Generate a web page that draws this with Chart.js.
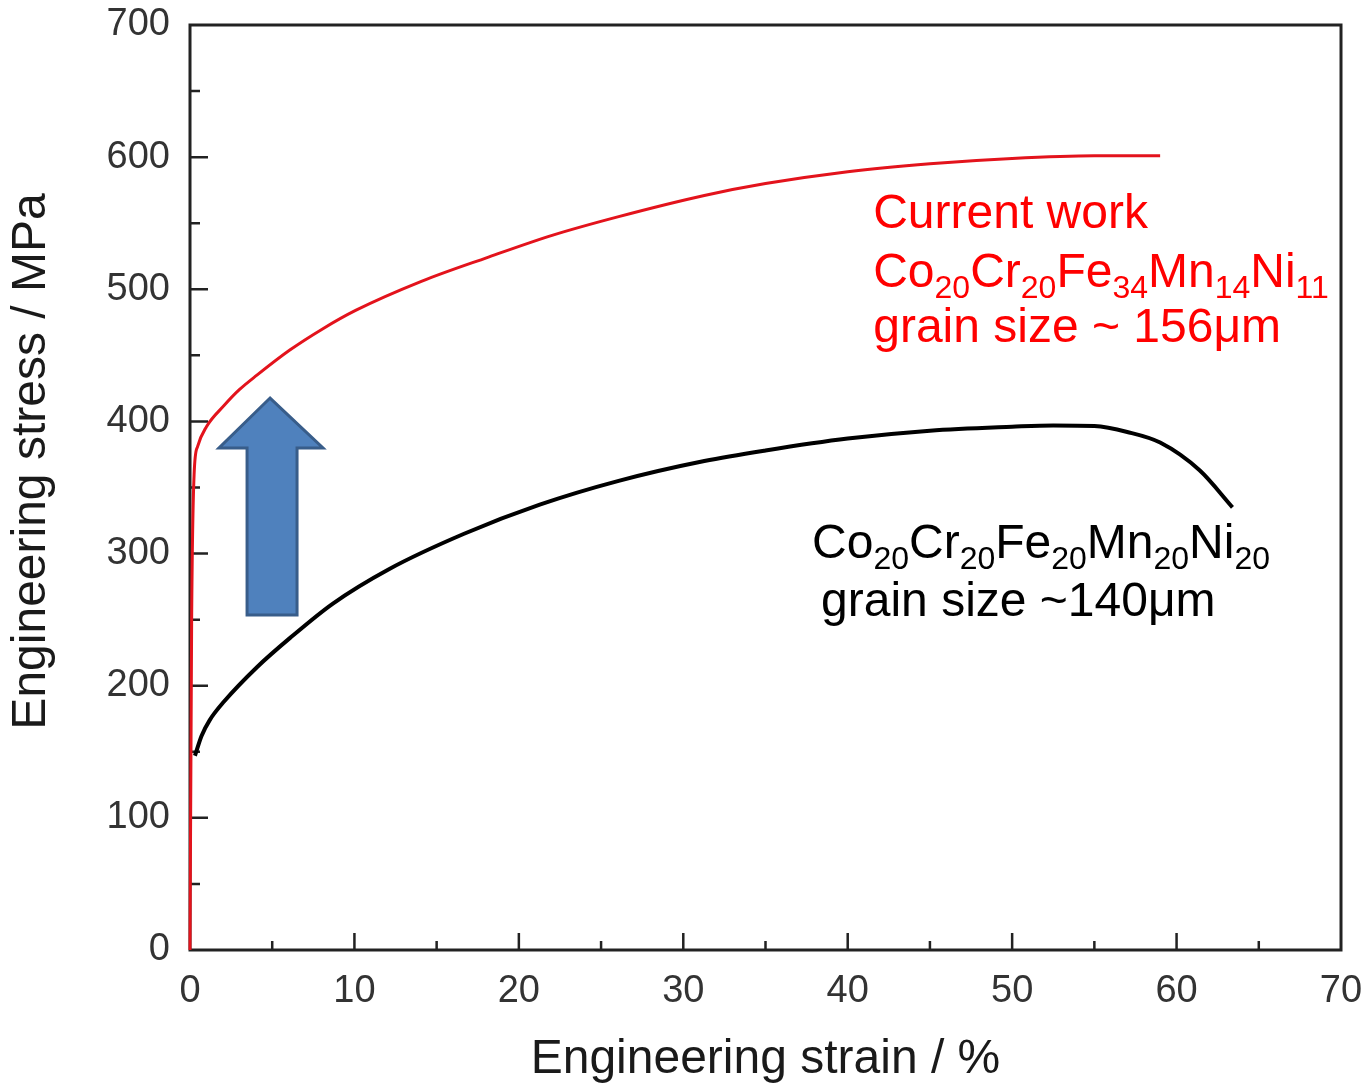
<!DOCTYPE html>
<html>
<head>
<meta charset="utf-8">
<script src="https://cdn.jsdelivr.net/npm/chart.js@4.4.1/dist/chart.umd.min.js"></script>
<style>
  html, body { margin: 0; padding: 0; background: #fff; }
  canvas { display: block; }
</style>
</head>
<body>
<canvas id="stressChart" width="1367" height="1086"></canvas>
<script>
// current work alloy (red)
var redStrain = [0, 0.1, 0.25, 0.46, 1.0, 2.07, 3.0, 4.07, 6.07, 8.06, 10.07, 14.07, 18.07, 22.07, 26.07, 31.28, 35, 40, 45, 50, 55, 59];
var redStress = [0, 250, 360, 381, 396, 412, 424, 435, 454, 470, 484, 506, 524, 541, 555, 571, 580, 589, 595, 599, 601, 601];

// Cantor alloy (black), starts at the yield point
var blackStrain = [0.3, 0.7, 1.2, 2.07, 4.07, 6.07, 8.67, 12.07, 16.67, 21.27, 26.07, 31.28, 35, 40, 45, 50, 52.5, 55, 57, 59, 61.4, 63.4];
var blackStress = [147, 162, 174, 188, 214, 236, 262, 288, 315, 337, 355, 370, 378, 387, 393, 396, 397, 396.5, 392, 384, 363, 335];

var xTickValues = [0, 10, 20, 30, 40, 50, 60, 70];
var yTickValues = [0, 100, 200, 300, 400, 500, 600, 700];

// block arrow outline, in strain / stress units
var arrowOutline = [[4.87, 417.7], [8.09, 379.9], [6.51, 379.9], [6.51, 253.5], [3.47, 253.5], [3.47, 379.9], [1.76, 379.9]];

// text annotations: [strain, stress] anchor + pieces, true = subscript
var redNotes = [
    { at: [41.55, 546.4], parts: [['Current work', false]] },
    { at: [41.55, 501.7], parts: [['Co', false], ['20', true], ['Cr', false], ['20', true], ['Fe', false], ['34', true], ['Mn', false], ['14', true], ['Ni', false], ['11', true]] },
    { at: [41.55, 460.1], parts: [['grain size ~ 156\u03bcm', false]] }
];
var blackNotes = [
    { at: [37.83, 296.7], parts: [['Co', false], ['20', true], ['Cr', false], ['20', true], ['Fe', false], ['20', true], ['Mn', false], ['20', true], ['Ni', false], ['20', true]] },
    { at: [38.38, 252.8], parts: [['grain size ~140\u03bcm', false]] }
];

var FONT = "'Liberation Sans', Arial, sans-serif";

function toPoints(xs, ys) {
    return xs.map(function (x, i) { return { x: x, y: ys[i] }; });
}

var axesPlugin = {
    id: 'axesPlugin',
    beforeDatasetsDraw: function (chart) {
        var ctx = chart.ctx;
        var area = chart.chartArea;
        var xs = chart.scales.x;
        var ys = chart.scales.y;
        ctx.save();
        ctx.strokeStyle = '#222';
        ctx.lineWidth = 3;
        ctx.strokeRect(area.left, area.top, area.right - area.left, area.bottom - area.top);

        ctx.lineWidth = 2.5;
        ctx.beginPath();
        xs.ticks.forEach(function (t, i) {
            var px = xs.getPixelForValue(t.value);
            if (t.value > xs.min && t.value < xs.max) {
                ctx.moveTo(px, area.bottom);
                ctx.lineTo(px, area.bottom - 17);
            }
            if (i < xs.ticks.length - 1) {
                var mid = xs.getPixelForValue((t.value + xs.ticks[i + 1].value) / 2);
                ctx.moveTo(mid, area.bottom);
                ctx.lineTo(mid, area.bottom - 9);
            }
        });
        ys.ticks.forEach(function (t, i) {
            var py = ys.getPixelForValue(t.value);
            if (t.value > ys.min && t.value < ys.max) {
                ctx.moveTo(area.left, py);
                ctx.lineTo(area.left + 18, py);
            }
            if (i < ys.ticks.length - 1) {
                var mid = ys.getPixelForValue((t.value + ys.ticks[i + 1].value) / 2);
                ctx.moveTo(area.left, mid);
                ctx.lineTo(area.left + 10, mid);
            }
        });
        ctx.stroke();

        // y axis title
        ctx.fillStyle = '#1a1a1a';
        ctx.font = '48px ' + FONT;
        ctx.textAlign = 'center';
        ctx.textBaseline = 'middle';
        ctx.translate(area.left - 158, (area.top + area.bottom) / 2 - 26);
        ctx.rotate(-Math.PI / 2);
        ctx.fillText('Engineering stress / MPa', 0, 0);
        ctx.restore();
    },
    afterDatasetsDraw: function (chart) {
        var ctx = chart.ctx;
        var xs = chart.scales.x;
        var ys = chart.scales.y;
        ctx.save();

        ctx.beginPath();
        arrowOutline.forEach(function (p, i) {
            var px = xs.getPixelForValue(p[0]);
            var py = ys.getPixelForValue(p[1]);
            if (i === 0) ctx.moveTo(px, py); else ctx.lineTo(px, py);
        });
        ctx.closePath();
        ctx.fillStyle = '#4f81bd';
        ctx.fill();
        ctx.strokeStyle = '#385d8a';
        ctx.lineWidth = 3;
        ctx.lineJoin = 'miter';
        ctx.stroke();

        function drawNotes(notes, color) {
            ctx.fillStyle = color;
            ctx.textAlign = 'left';
            ctx.textBaseline = 'alphabetic';
            notes.forEach(function (n) {
                var x = xs.getPixelForValue(n.at[0]);
                var y = ys.getPixelForValue(n.at[1]);
                n.parts.forEach(function (part) {
                    ctx.font = (part[1] ? '32px ' : '48px ') + FONT;
                    ctx.fillText(part[0], x, part[1] ? y + 11 : y);
                    x += ctx.measureText(part[0]).width;
                });
            });
        }
        drawNotes(redNotes, '#ff0000');
        drawNotes(blackNotes, '#000000');
        ctx.restore();
    }
};

var ctx = document.getElementById('stressChart').getContext('2d');
new Chart(ctx, {
    type: 'line',
    data: {
        datasets: [{
            label: 'Co20Cr20Fe34Mn14Ni11',
            data: toPoints(redStrain, redStress),
            borderColor: '#e3131c',
            borderWidth: 3,
            pointRadius: 0,
            cubicInterpolationMode: 'monotone',
            clip: 10
        }, {
            label: 'Co20Cr20Fe20Mn20Ni20',
            data: toPoints(blackStrain, blackStress),
            borderColor: '#000000',
            borderWidth: 4,
            pointRadius: 0,
            cubicInterpolationMode: 'monotone',
            clip: 10
        }]
    },
    options: {
        responsive: false,
        animation: false,
        devicePixelRatio: 1,
        layout: { padding: { top: 25, right: 26, left: 0, bottom: 0 } },
        plugins: {
            legend: { display: false },
            tooltip: { enabled: false }
        },
        scales: {
            x: {
                type: 'linear',
                min: 0,
                max: 70,
                grid: { display: false, drawTicks: false },
                border: { display: false },
                afterBuildTicks: function (scale) {
                    scale.ticks = xTickValues.map(function (v) { return { value: v }; });
                },
                afterFit: function (scale) {
                    scale.height = 136;
                    scale.paddingLeft = 0;
                    scale.paddingRight = 0;
                },
                ticks: {
                    padding: 19,
                    color: '#333',
                    font: { family: FONT, size: 38 }
                },
                title: {
                    display: true,
                    text: 'Engineering strain / %',
                    color: '#1a1a1a',
                    padding: { top: 0, bottom: 0 },
                    font: { family: FONT, size: 48, lineHeight: 1.1 }
                }
            },
            y: {
                type: 'linear',
                min: 0,
                max: 700,
                grid: { display: false, drawTicks: false },
                border: { display: false },
                afterBuildTicks: function (scale) {
                    scale.ticks = yTickValues.map(function (v) { return { value: v }; });
                },
                afterFit: function (scale) {
                    scale.width = 190;
                    scale.paddingTop = 0;
                    scale.paddingBottom = 0;
                },
                ticks: {
                    padding: 20,
                    color: '#333',
                    font: { family: FONT, size: 38 }
                }
            }
        }
    },
    plugins: [axesPlugin]
});
</script>
</body>
</html>
